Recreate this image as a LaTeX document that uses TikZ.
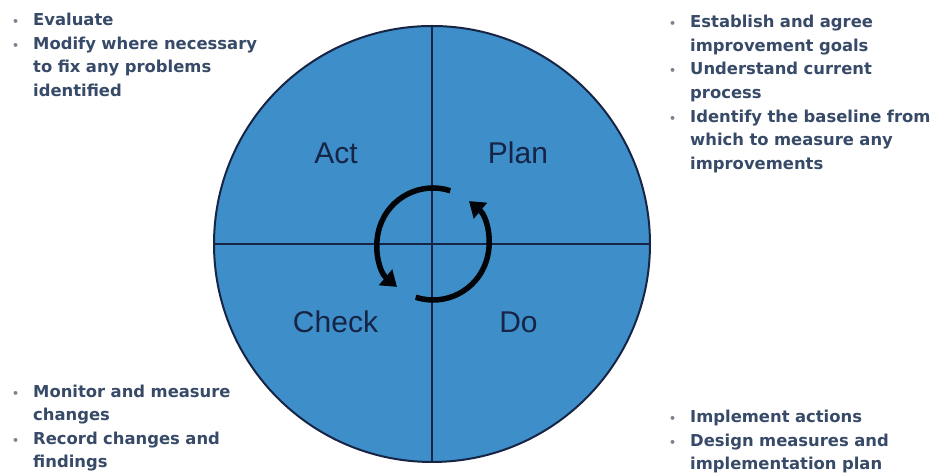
\documentclass[tikz,border=0pt]{standalone}
\usepackage{fontspec}
\setmainfont{DejaVu Sans}
\newfontfamily\labelfont{Liberation Sans}
\usetikzlibrary{arrows.meta}
\definecolor{fillblue}{RGB}{62,143,201}
\definecolor{navy}{RGB}{22,36,70}
\definecolor{notetext}{RGB}{55,74,104}
\definecolor{notedot}{RGB}{120,130,145}
\newcommand{\bitem}[1]{\noindent\hangindent=21pt\hangafter=1\makebox[21pt][l]{\textcolor{notedot}{\fontsize{11pt}{11pt}\selectfont•}}#1\par}
\tikzset{
  notes/.style={anchor=north west, inner sep=0pt, text width=310pt,
    text=notetext, font=\fontsize{16.4pt}{23.6pt}\selectfont\bfseries},
  quad/.style={text=navy, inner sep=0pt, font=\labelfont\fontsize{30pt}{34pt}\selectfont},
  cyc/.style={line width=5.5pt, draw=black!90!navy, -{Triangle[length=15pt,width=20pt]}},
}
\begin{document}
\begin{tikzpicture}[x=1pt,y=1pt]
\fill[white] (0,0) rectangle (930,476);
\useasboundingbox (0,0) rectangle (930,476);
\coordinate (o) at (432,232);
\coordinate (c) at (433,232);
\fill[fillblue] (o) circle[radius=218];
\draw[navy, line width=2pt] ([yshift=218pt]o) -- ([yshift=-218pt]o);
\draw[navy, line width=2pt] ([xshift=-218pt]o) -- ([xshift=218pt]o);
\draw[navy, line width=2pt] (o) circle[radius=218];
\node[quad] (act) at (336,323) {Act};
\node[quad] (plan) at (518,323) {Plan};
\node[quad] (check) at (335.5,154) {Check};
\node[quad] (do) at (518.5,154) {Do};
\draw[cyc] ([shift={(72:56)}]c) arc[start angle=72, end angle=230, radius=56];
\draw[cyc] ([shift={(252:56)}]c) arc[start angle=252, end angle=410, radius=56];
\node[notes] (tl) at (12,463) {\bitem{Evaluate}\bitem{Modify where necessary\newline to fix any problems\newline identified}};
\node[notes] (tr) at (669,461) {\bitem{Establish and agree\newline improvement goals}\bitem{Understand current\newline process}\bitem{Identify the baseline from\newline which to measure any\newline improvements}};
\node[notes] (bl) at (12,91.5) {\bitem{Monitor and measure\newline changes}\bitem{Record changes and\newline findings}};
\node[notes] (br) at (669,66) {\bitem{Implement actions}\bitem{Design measures and\newline implementation plan}};
\end{tikzpicture}
\end{document}
